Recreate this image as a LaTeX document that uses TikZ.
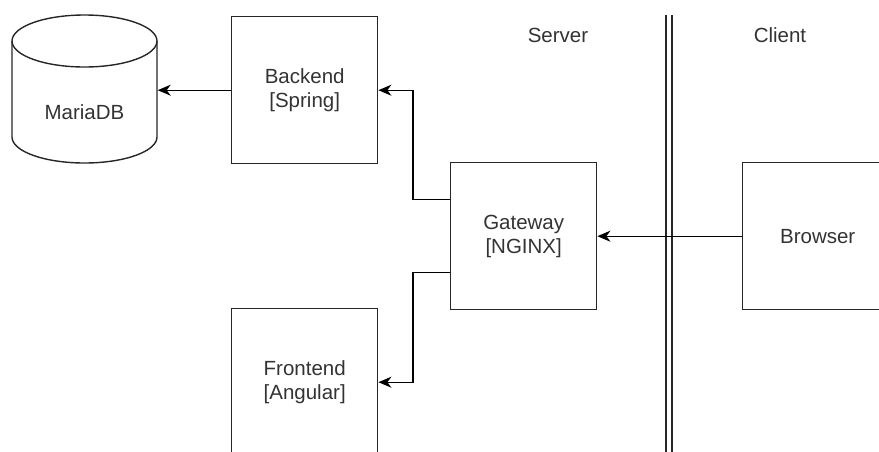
\documentclass[tikz,border=0pt]{standalone}
\usepackage{fontspec}
\setmainfont{Liberation Sans}
\usetikzlibrary{arrows.meta}
\begin{document}
\begin{tikzpicture}[x=1pt,y=-1pt, line width=1.4pt,
  lbl/.style={font=\fontsize{20.5}{24}\selectfont, text=black!80, align=center},
  box/.style={lbl, draw=black!85, minimum width=146pt, minimum height=147pt, inner sep=0pt, anchor=north west},
  conn/.style={draw=black, line width=1.4pt, -{Stealth[length=13pt,width=11pt,inset=4pt]}},
  wall/.style={draw=black!85, line width=1.3pt}]
\useasboundingbox (0,0) rectangle (879,451);
\clip (0,0) rectangle (879,451);
% cylinder
\draw[draw=black!85] (84.5,41) ellipse [x radius=72.5, y radius=26];
\draw[draw=black!85] (12,41) -- (12,137)
  .. controls (12,151.36) and (44.46,163) .. (84.5,163)
  .. controls (124.54,163) and (157,151.36) .. (157,137) -- (157,41);
\node[lbl, minimum width=145pt, inner sep=0pt] (db) at (84.5,112) {MariaDB};
% boxes
\node[box] (be) at (231,16) {Backend\\{}[Spring]};
\node[box] (gw) at (450,162) {Gateway\\{}[NGINX]};
\node[box] (fe) at (231,308) {Frontend\\{}[Angular]};
\node[box, minimum width=150pt] (br) at (742,162) {Browser};
% labels
\node[lbl] (srv) at (558,35) {Server};
\node[lbl] (cli) at (780,35) {Client};
% wall
\coordinate (w1t) at (666,15); \coordinate (w1b) at (666,460);
\coordinate (w2t) at (672,15); \coordinate (w2b) at (672,460);
\draw[wall] (w1t) -- (w1b);
\draw[wall] (w2t) -- (w2b);
% connectors
\draw[conn] (br.west) -- (gw.east);
\draw[conn] ([yshift=36.5pt]gw.west) -- ++(-37,0) |- (be.east);
\draw[conn] ([yshift=-36.5pt]gw.west) -- ++(-37,0) |- (fe.east);
\draw[conn] (be.west) -- (be.west -| db.east);
\end{tikzpicture}
\end{document}
